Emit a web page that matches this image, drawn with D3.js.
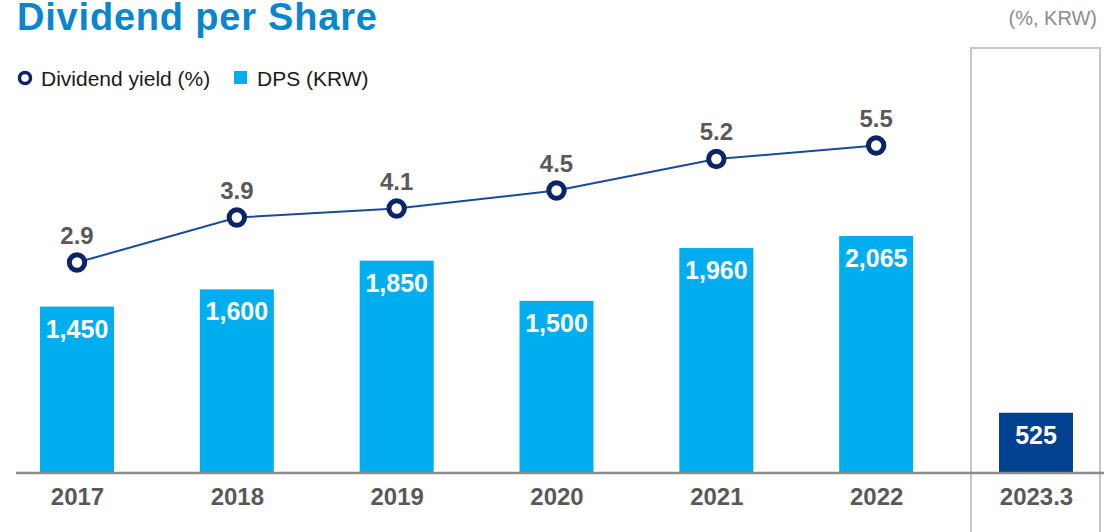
<!DOCTYPE html>
<html>
<head>
<meta charset="utf-8">
<script src="https://cdn.jsdelivr.net/npm/d3@7"></script>
<style>
  html, body { margin: 0; padding: 0; background: #fff; }
  svg { display: block; font-family: "Liberation Sans", Arial, sans-serif; }
</style>
</head>
<body>
<svg id="chart" width="1104" height="532"></svg>
<script>
// Dividend data, FY2017-2022 plus Q1 2023
const years = ["2017", "2018", "2019", "2020", "2021", "2022", "2023.3"];
const dps = [1450, 1600, 1850, 1500, 1960, 2065, 525];            // KRW
const yieldYears = ["2017", "2018", "2019", "2020", "2021", "2022"];
const yieldPct = [2.9, 3.9, 4.1, 4.5, 5.2, 5.5];                  // %
const interimYear = "2023.3";

const svg = d3.select("#chart");
const W = 1104, H = 532;
const baseY = 473;
const barW = 74;

const x = d3.scalePoint().domain(years).range([77, 1036]);
const yBar = d3.scaleLinear().domain([0, 2065]).range([baseY, 236]);
const yLine = d3.scaleLinear().domain([0, 7]).range([393, 78]);

// Title and unit note
svg.append("text")
  .attr("x", 17).attr("y", 30)
  .attr("fill", "#0a86cf")
  .attr("font-size", 38).attr("font-weight", "bold")
  .attr("letter-spacing", 0.8)
  .text("Dividend per Share");

svg.append("text")
  .attr("x", 1097).attr("y", 25)
  .attr("text-anchor", "end")
  .attr("fill", "#8c8c8c")
  .attr("font-size", 20)
  .text("(%, KRW)");

// Legend
const legend = svg.append("g");
legend.append("circle")
  .attr("cx", 25).attr("cy", 78).attr("r", 5.5)
  .attr("fill", "#fff").attr("stroke", "#0b2466").attr("stroke-width", 3.5);
legend.append("text")
  .attr("x", 41).attr("y", 85.5)
  .attr("font-size", 21).attr("fill", "#1a1a1a")
  .text("Dividend yield (%)");
legend.append("rect")
  .attr("x", 234).attr("y", 71).attr("width", 13).attr("height", 13)
  .attr("fill", "#00aeef");
legend.append("text")
  .attr("x", 257).attr("y", 85.5)
  .attr("font-size", 21).attr("fill", "#1a1a1a")
  .text("DPS (KRW)");

// Frame around the interim period
svg.append("rect")
  .attr("x", 971).attr("y", 48)
  .attr("width", 129).attr("height", H)
  .attr("fill", "none")
  .attr("stroke", "#c6c6c6").attr("stroke-width", 2);

// Bars
const bars = years.map((yr, i) => ({ yr, v: dps[i] }));
svg.append("g").selectAll("rect")
  .data(bars)
  .join("rect")
  .attr("x", d => x(d.yr) - barW / 2)
  .attr("y", d => yBar(d.v))
  .attr("width", barW)
  .attr("height", d => baseY - yBar(d.v))
  .attr("fill", d => d.yr === interimYear ? "#00428f" : "#00aeef");

svg.append("g").selectAll("text")
  .data(bars)
  .join("text")
  .attr("x", d => x(d.yr))
  .attr("y", d => yBar(d.v) + 31)
  .attr("text-anchor", "middle")
  .attr("fill", "#fff")
  .attr("font-size", 25).attr("font-weight", "bold")
  .text(d => d3.format(",")(d.v));

// Baseline axis
const axis = d3.axisBottom(x).tickSize(0).tickPadding(0);
const axisG = svg.append("g").attr("transform", `translate(0,${baseY})`).call(axis);
axisG.select(".domain").remove();
axisG.append("line")
  .attr("x1", 16).attr("x2", W).attr("y1", 0).attr("y2", 0)
  .attr("stroke", "#8c8c8c").attr("stroke-width", 2.5);
axisG.selectAll(".tick text")
  .attr("y", 31.5)
  .attr("dy", 0)
  .attr("fill", "#595959")
  .attr("font-size", 24).attr("font-weight", "bold")
  .attr("font-family", "'Liberation Sans', Arial, sans-serif");

// Dividend yield line
const pts = yieldYears.map((yr, i) => ({ yr, v: yieldPct[i] }));
svg.append("path")
  .datum(pts)
  .attr("fill", "none")
  .attr("stroke", "#1b4a9a")
  .attr("stroke-width", 2)
  .attr("d", d3.line().x(d => x(d.yr)).y(d => yLine(d.v)));

svg.append("g").selectAll("circle")
  .data(pts)
  .join("circle")
  .attr("cx", d => x(d.yr))
  .attr("cy", d => yLine(d.v))
  .attr("r", 7.7)
  .attr("fill", "#fff")
  .attr("stroke", "#0b2466")
  .attr("stroke-width", 5);

svg.append("g").selectAll("text")
  .data(pts)
  .join("text")
  .attr("x", d => x(d.yr))
  .attr("y", d => yLine(d.v) - 19)
  .attr("text-anchor", "middle")
  .attr("fill", "#595959")
  .attr("font-size", 24).attr("font-weight", "bold")
  .text(d => d3.format(".1f")(d.v));
</script>
</body>
</html>
